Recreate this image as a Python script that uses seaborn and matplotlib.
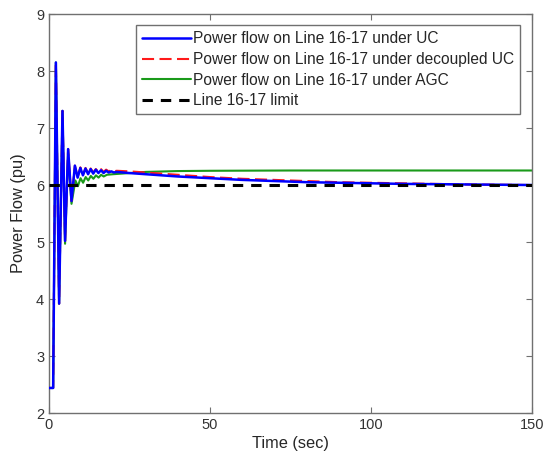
import matplotlib
matplotlib.use("Agg")
import matplotlib.pyplot as plt
import seaborn as sns
import pandas as pd

# ---- data ----
t_uc = [0, 1.3, 2.15, 3.15, 4.2, 5.0, 5.95, 7.0, 8.05, 8.9, 9.75, 10.55, 11.35, 12.15,
        12.95, 13.75, 14.55, 15.35, 16.15, 16.95, 17.75, 18.55, 19.35, 20.15, 21, 25,
        30, 40, 50, 60, 70, 80, 90, 100, 110, 120, 130, 140, 150]
p_uc = [2.44, 2.44, 8.15, 3.92, 7.30, 5.02, 6.63, 5.72, 6.34, 6.13, 6.30, 6.17, 6.29, 6.19,
        6.28, 6.20, 6.27, 6.21, 6.26, 6.21, 6.25, 6.22, 6.24, 6.22, 6.23, 6.21,
        6.19, 6.15, 6.12, 6.09, 6.07, 6.05, 6.04, 6.03, 6.02, 6.015, 6.01, 6.005, 6.0]

t_dec = [0, 1.3, 2.15, 3.15, 4.2, 5.0, 5.95, 7.0, 8.05, 8.9, 9.75, 10.55, 11.35, 12.15,
         12.95, 13.75, 14.55, 15.35, 16.15, 16.95, 17.75, 18.55, 19.35, 20.15, 21, 25,
         30, 40, 50, 60, 70, 80, 90, 100, 110, 120, 130, 140, 150]
p_dec = [2.44, 2.44, 8.15, 3.92, 7.30, 5.02, 6.63, 5.72, 6.34, 6.14, 6.31, 6.18, 6.30, 6.21,
         6.29, 6.22, 6.28, 6.23, 6.28, 6.23, 6.27, 6.24, 6.26, 6.24, 6.25, 6.24,
         6.22, 6.18, 6.14, 6.11, 6.09, 6.07, 6.05, 6.04, 6.03, 6.02, 6.01, 6.005, 6.0]

t_agc = [0, 1.3, 2.15, 3.15, 4.2, 5.0, 5.95, 7.0, 8.2, 9.0, 9.8, 10.6, 11.4, 12.2, 13.0,
         13.8, 14.6, 15.4, 16.2, 17, 18, 20, 25, 30, 40, 50, 75, 100, 150]
p_agc = [2.44, 2.44, 8.15, 3.92, 7.30, 4.97, 6.55, 5.67, 6.08, 5.98, 6.12, 6.04, 6.14, 6.08,
         6.16, 6.11, 6.17, 6.13, 6.18, 6.15, 6.18, 6.19, 6.21, 6.23, 6.245, 6.25, 6.255,
         6.255, 6.255]

t_lim = [0, 150]
p_lim = [6.0, 6.0]

labels = ["Power flow on Line 16-17 under UC",
          "Power flow on Line 16-17 under decoupled UC",
          "Power flow on Line 16-17 under AGC",
          "Line 16-17 limit"]
x_ticks = [0, 50, 100, 150]
y_ticks = [2, 3, 4, 5, 6, 7, 8, 9]

sns.set_style("white")
plt.rcParams['font.family'] = ['Liberation Sans', 'DejaVu Sans']

fig = plt.figure(figsize=(5.44, 4.61), dpi=100)
ax = fig.add_axes([0.090, 0.104, 0.888, 0.8656])

df_uc = pd.DataFrame({"t": t_uc, "p": p_uc})
df_dec = pd.DataFrame({"t": t_dec, "p": p_dec})
df_agc = pd.DataFrame({"t": t_agc, "p": p_agc})
df_lim = pd.DataFrame({"t": t_lim, "p": p_lim})

sns.lineplot(data=df_agc, x="t", y="p", ax=ax, color="#1a9a1a", lw=1.5,
             estimator=None, sort=False, zorder=2)
sns.lineplot(data=df_dec, x="t", y="p", ax=ax, color="#ff1a1a", lw=1.5,
             estimator=None, sort=False, zorder=3, linestyle=(0, (5.8, 2.6)))
sns.lineplot(data=df_uc, x="t", y="p", ax=ax, color="#0000ff", lw=1.8,
             estimator=None, sort=False, zorder=4)
sns.lineplot(data=df_lim, x="t", y="p", ax=ax, color="black", lw=2.2,
             estimator=None, sort=False, zorder=5, linestyle=(0, (3.4, 2.6)))

lines = ax.get_lines()
handles = [lines[2], lines[1], lines[0], lines[3]]
leg = ax.legend(handles, labels, loc="upper right", bbox_to_anchor=(0.975, 0.972),
                fontsize=11.2, frameon=True, fancybox=False, framealpha=1,
                edgecolor="#707070", handlelength=3.1, handletextpad=0.13,
                labelspacing=0.36, borderpad=0.4, borderaxespad=0)
leg.get_frame().set_linewidth(1.0)

ax.set_xlim(0, 150)
ax.set_ylim(2, 9)
ax.set_xticks(x_ticks)
ax.set_yticks(y_ticks)
ax.set_xlabel("Time (sec)", fontsize=11.8, color="#262626", labelpad=3)
ax.set_ylabel("Power Flow (pu)", fontsize=11.8, color="#262626", labelpad=7)
ax.tick_params(direction="in", length=4, width=0.8, colors="#707070",
               labelcolor="#333333", labelsize=10.5, top=True, right=True,
               bottom=True, left=True)
for s in ax.spines.values():
    s.set_color("#707070")
    s.set_linewidth(1.0)
    s.set_visible(True)

fig.savefig("out.png", dpi=100)
